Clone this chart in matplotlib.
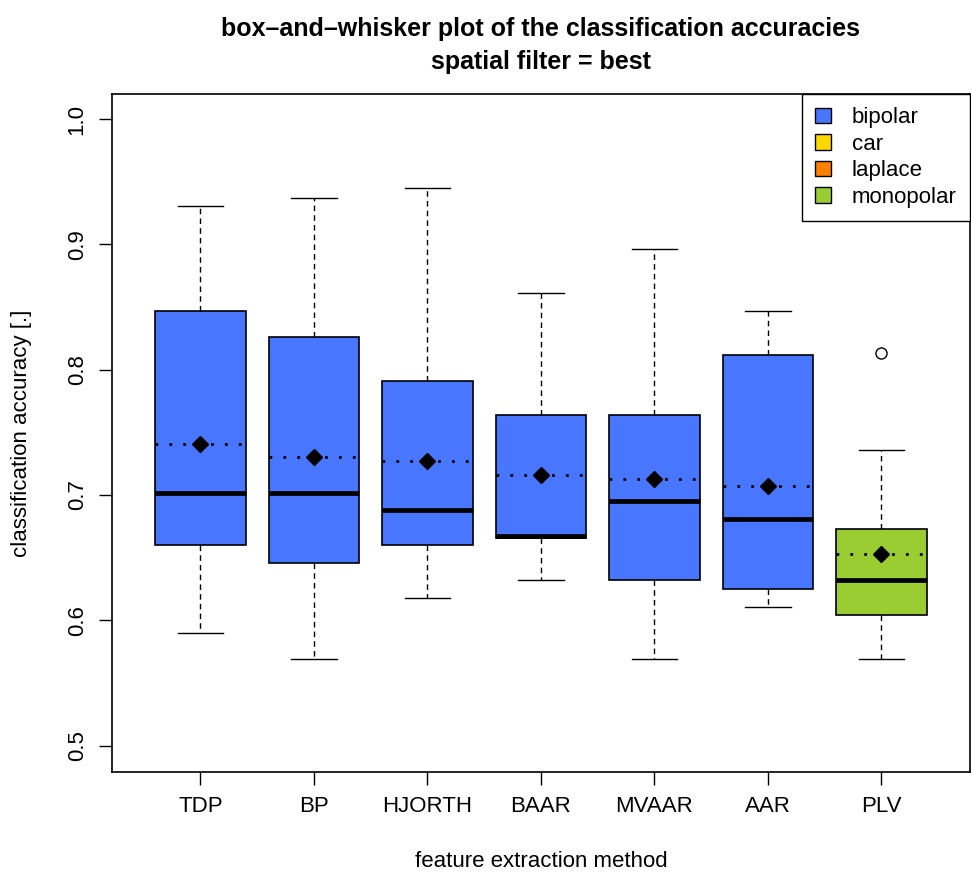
import matplotlib
matplotlib.use("Agg")
from matplotlib import pyplot as plt
from matplotlib.patches import Patch

plt.rcParams['font.family'] = ['Liberation Sans', 'DejaVu Sans']

# metodos de extraccion y sus estadisticos (min, q1, mediana, q3, max, media)
metodos = ["TDP", "BP", "HJORTH", "BAAR", "MVAAR", "AAR", "PLV"]
minimos = [0.590, 0.569, 0.618, 0.632, 0.569, 0.611, 0.569]
q1 = [0.660, 0.646, 0.660, 0.666, 0.632, 0.625, 0.604]
medianas = [0.702, 0.702, 0.688, 0.667, 0.695, 0.681, 0.632]
q3 = [0.847, 0.826, 0.791, 0.764, 0.764, 0.812, 0.673]
maximos = [0.931, 0.937, 0.945, 0.861, 0.896, 0.847, 0.736]
medias = [0.741, 0.730, 0.727, 0.716, 0.713, 0.707, 0.653]
atipicos = [[], [], [], [], [], [], [0.813]]
filtro = ["bipolar", "bipolar", "bipolar", "bipolar", "bipolar", "bipolar", "monopolar"]

filtros = ["bipolar", "car", "laplace", "monopolar"]
colores = {"bipolar": "#4876FF", "car": "#FFD700",
           "laplace": "#FF7F00", "monopolar": "#9ACD32"}

stats = []
for i in range(len(metodos)):
    stats.append({"whislo": minimos[i], "q1": q1[i], "med": medianas[i],
                  "q3": q3[i], "whishi": maximos[i], "fliers": atipicos[i],
                  "label": metodos[i]})

fig = plt.figure(figsize=(9.71, 8.76), dpi=100)
ax = fig.add_axes([0.1153, 0.1187, 0.8836, 0.7740])

pos = list(range(1, len(metodos) + 1))
cajas = ax.bxp(stats, positions=pos, widths=0.8, patch_artist=True,
               boxprops=dict(edgecolor="black", linewidth=1.2),
               medianprops=dict(color="black", linewidth=3.4, solid_capstyle="butt"),
               whiskerprops=dict(color="black", linestyle=(0, (4, 3)), linewidth=1),
               capprops=dict(color="black", linewidth=1),
               flierprops=dict(marker="o", markerfacecolor="white",
                               markeredgecolor="black", markersize=8),
               capwidths=0.4)
for caja, f in zip(cajas["boxes"], filtro):
    caja.set_facecolor(colores[f])

# media: linea punteada y rombo
for p, m in zip(pos, medias):
    ax.plot([p - 0.4, p + 0.4], [m, m], color="black", linestyle=(0, (1, 4)),
            linewidth=2, zorder=4)
ax.plot(pos, medias, "D", color="black", markersize=8, zorder=5)

ax.set_xlim(0.22, 7.78)
ax.set_ylim(0.479, 1.02)
ax.set_yticks([0.5, 0.6, 0.7, 0.8, 0.9, 1.0])
ax.set_yticklabels(["0.5", "0.6", "0.7", "0.8", "0.9", "1.0"], rotation=90, va="center")
ax.set_xticks(pos)
ax.set_xticklabels(metodos)
ax.tick_params(labelsize=16, length=9.5, width=1, pad=8)
for s in ax.spines.values():
    s.set_linewidth(1.2)

ax.set_xlabel("feature extraction method", fontsize=16, labelpad=24)
ax.set_ylabel("classification accuracy [.]", fontsize=16, labelpad=25)
ax.set_title("box\u2013and\u2013whisker plot of the classification accuracies\nspatial filter = best",
             fontsize=18, fontweight="bold", pad=18, linespacing=1.45)

manejadores = [Patch(facecolor=colores[f], edgecolor="black", label=f) for f in filtros]
ax.legend(handles=manejadores, loc="upper right", borderaxespad=0, fancybox=False,
          edgecolor="black", framealpha=1, fontsize=16, handlelength=0.7,
          handleheight=0.7, borderpad=0.6, labelspacing=0.25, handletextpad=0.95)

plt.savefig("out.png", dpi=100)
